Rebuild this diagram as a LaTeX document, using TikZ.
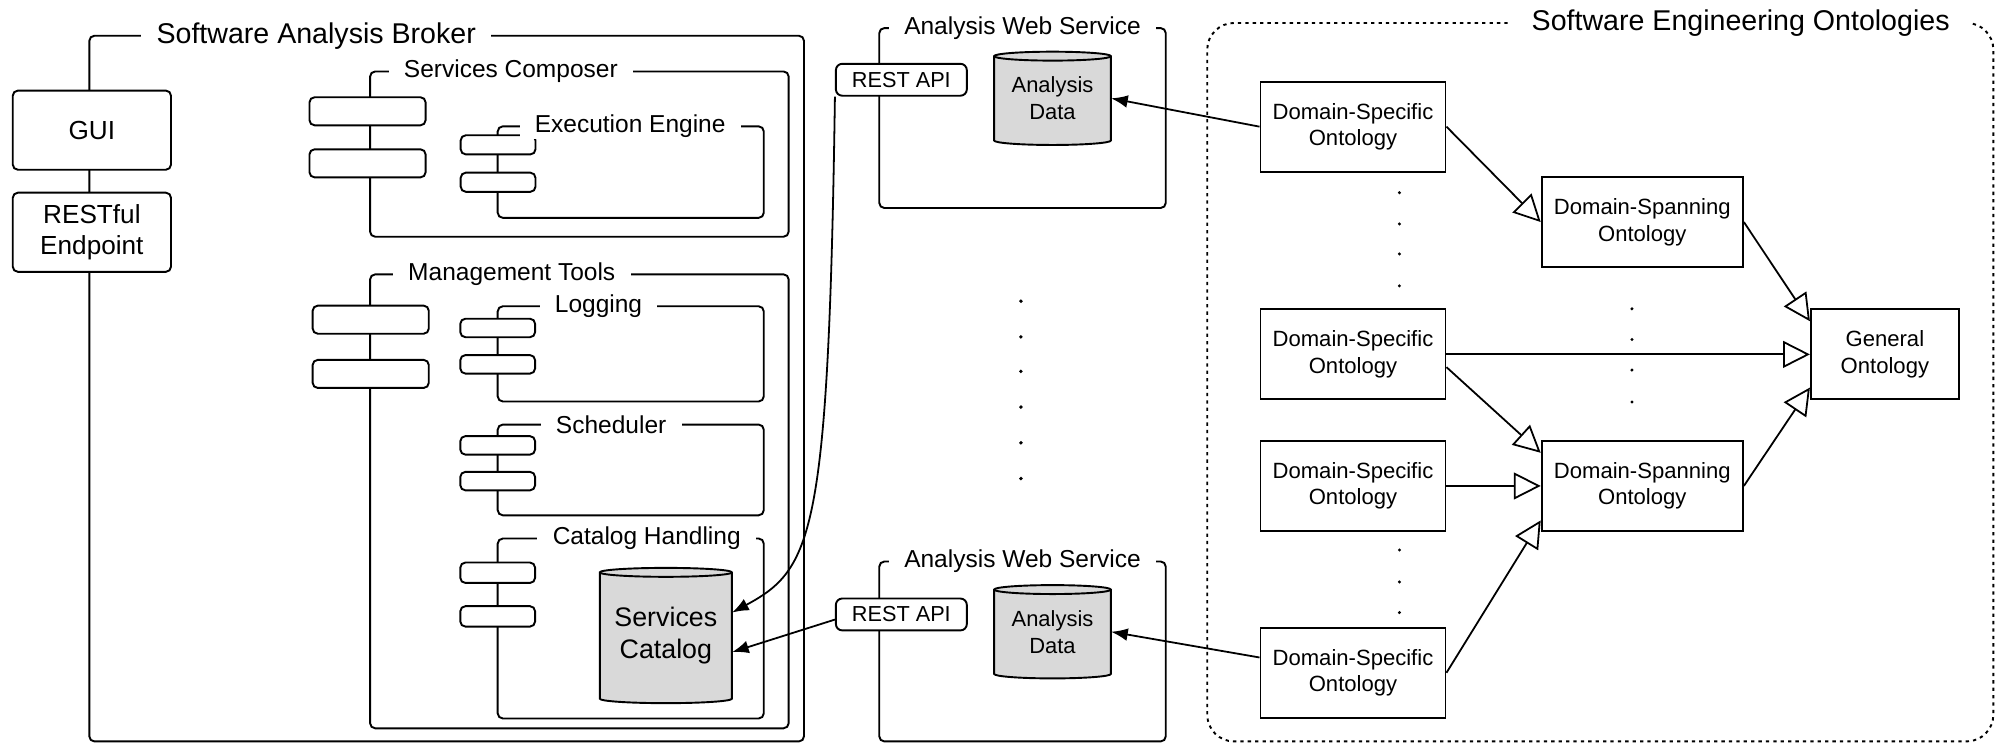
\documentclass[tikz,border=0pt]{standalone}
\usepackage{fontspec}
\setmainfont{Liberation Sans}
\usetikzlibrary{arrows.meta,calc}
\definecolor{dbgray}{gray}{0.85}
\begin{document}
\begin{tikzpicture}[x=1pt,y=-1pt,
  frame/.style={draw, line width=1.5pt, rounded corners=4pt, inner sep=0pt},
  ftitle/.style={fill=white, inner xsep=12pt, inner ysep=1pt, font=\fontsize{19.2}{23}\selectfont},
  btitle/.style={fill=white, inner xsep=12pt, inner ysep=1pt, font=\fontsize{22.4}{27}\selectfont},
  iface/.style={draw, fill=white, line width=1.5pt, rounded corners=4pt, inner sep=0pt},
  sbox/.style={draw, fill=white, line width=1.5pt, rounded corners=4pt, align=center, inner sep=0pt, font=\fontsize{20.5}{24.5}\selectfont},
  onto/.style={draw, fill=white, line width=1.5pt, align=center, inner sep=0pt, minimum height=70.5pt, font=\fontsize{17.3}{20.8}\selectfont},
  restbox/.style={draw, fill=white, line width=1.5pt, rounded corners=5pt, inner sep=0pt, minimum width=102.6pt, minimum height=25pt, font=\fontsize{17}{20}\selectfont},
  dbtext/.style={align=center, inner sep=0pt},
  dep/.style={-{Latex[length=13pt,width=10pt]}, line width=1.4pt},
  gen/.style={-{Triangle[open,length=21pt,width=21pt]}, line width=1.4pt},
  cyl/.style={fill=dbgray, line width=1.5pt},
]
\useasboundingbox (0,0) rectangle (1568,585);

% ---------- frames ----------
\node[frame, minimum width=560pt, minimum height=553pt] (broker) at (350,304.5) {};
\node[frame, minimum width=328pt, minimum height=129.5pt] (sc) at (454,120.75) {};
\node[frame, minimum width=208.5pt, minimum height=71.7pt] (ee) at (494.25,134.85) {};
\node[frame, minimum width=328pt, minimum height=355.7pt] (mt) at (454,392.85) {};
\node[frame, minimum width=208.5pt, minimum height=74.6pt] (log) at (494.25,277.3) {};
\node[frame, minimum width=208.5pt, minimum height=71.1pt] (sched) at (494.25,368.25) {};
\node[frame, minimum width=208.5pt, minimum height=141pt] (ch) at (494.25,492.5) {};
\node[frame, minimum width=224.5pt, minimum height=141pt] (aws1) at (801.25,92.5) {};
\node[frame, minimum width=224.5pt, minimum height=141pt] (aws2) at (801.25,510.5) {};
\node[draw, line width=1.5pt, dash pattern=on 2.6pt off 3.2pt, rounded corners=21pt, inner sep=0pt,
      minimum width=616pt, minimum height=563pt] (seo) at (1254,299.5) {};

% ---------- interfaces ----------
\node[iface, minimum width=91pt, minimum height=22pt] (sci1) at (288,87.2) {};
\node[iface, minimum width=91pt, minimum height=22pt] (sci2) at (288,128) {};
\node[iface, minimum width=58.6pt, minimum height=15pt] (eei1) at (390.3,113.5) {};
\node[iface, minimum width=58.6pt, minimum height=15pt] (eei2) at (390.3,142.8) {};
\node[iface, minimum width=91pt, minimum height=22pt] (mti1) at (290.5,250.5) {};
\node[iface, minimum width=91pt, minimum height=22pt] (mti2) at (290.5,293) {};
\node[iface, minimum width=58.6pt, minimum height=14.5pt] (logi1) at (390,257) {};
\node[iface, minimum width=58.6pt, minimum height=14.5pt] (logi2) at (390,285.5) {};
\node[iface, minimum width=58.6pt, minimum height=14.5pt] (schi1) at (390,349) {};
\node[iface, minimum width=58.6pt, minimum height=14.5pt] (schi2) at (390,377) {};
\node[iface, minimum width=58.6pt, minimum height=16pt] (chi1) at (390,448.8) {};
\node[iface, minimum width=58.6pt, minimum height=16pt] (chi2) at (390,483) {};

% ---------- titles ----------
\node[btitle] (brokerT) at (247.8,28) {Software Analysis Broker};
\node[ftitle] (scT) at (400.3,56) {Services Composer};
\node[ftitle] (eeT) at (493.8,99) {Execution Engine};
\node[ftitle] (mtT) at (401,215) {Management Tools};
\node[ftitle] (logT) at (469,240) {Logging};
\node[ftitle] (schedT) at (478.9,332.7) {Scheduler};
\node[ftitle] (chT) at (506.8,422) {Catalog Handling};
\node[ftitle] (aws1T) at (801.25,22) {Analysis Web Service};
\node[ftitle] (aws2T) at (801.25,440) {Analysis Web Service};
\node[btitle, inner xsep=17pt] (seoT) at (1364,18) {Software Engineering Ontologies};

% ---------- left boxes ----------
\node[sbox, minimum width=124pt, minimum height=62pt] (gui) at (72,102) {GUI};
\node[sbox, minimum width=124pt, minimum height=62pt] (endp) at (72,182) {RESTful\\Endpoint};

% ---------- REST API boxes ----------
\node[restbox] (rest1) at (706.3,62.5) {REST API};
\node[restbox] (rest2) at (706.3,481.5) {REST API};

% ---------- cylinders ----------
\filldraw[cyl] (470,448.5) -- (470,547.5) arc[start angle=180,end angle=360,x radius=51.75pt,y radius=3.5pt]
  -- (573.5,448.5) arc[start angle=0,end angle=180,x radius=51.75pt,y radius=3.5pt] -- cycle;
\draw[line width=1.5pt] (470,448.5) arc[start angle=180,end angle=360,x radius=51.75pt,y radius=3.5pt];
\node[dbtext, minimum width=103.5pt, minimum height=106pt, font=\fontsize{21}{25}\selectfont] (scat) at (521.75,498) {Services\\Catalog};

\filldraw[cyl] (779,44) -- (779,110.1) arc[start angle=180,end angle=360,x radius=45.75pt,y radius=3.5pt]
  -- (870.5,44) arc[start angle=0,end angle=180,x radius=45.75pt,y radius=3.5pt] -- cycle;
\draw[line width=1.5pt] (779,44) arc[start angle=180,end angle=360,x radius=45.75pt,y radius=3.5pt];
\node[dbtext, minimum width=91.5pt, minimum height=73.1pt, font=\fontsize{17.2}{21}\selectfont] (ad1) at (824.75,77.05) {Analysis\\Data};

\filldraw[cyl] (779,462) -- (779,528.1) arc[start angle=180,end angle=360,x radius=45.75pt,y radius=3.5pt]
  -- (870.5,462) arc[start angle=0,end angle=180,x radius=45.75pt,y radius=3.5pt] -- cycle;
\draw[line width=1.5pt] (779,462) arc[start angle=180,end angle=360,x radius=45.75pt,y radius=3.5pt];
\node[dbtext, minimum width=91.5pt, minimum height=73.1pt, font=\fontsize{17.2}{21}\selectfont] (ad2) at (824.75,495.05) {Analysis\\Data};

% ---------- ontologies ----------
\node[onto, minimum width=145pt] (dso1) at (1060.2,99.25) {Domain-Specific\\Ontology};
\node[onto, minimum width=145pt] (dso2) at (1060.2,277.7) {Domain-Specific\\Ontology};
\node[onto, minimum width=145pt] (dso3) at (1060.2,380.8) {Domain-Specific\\Ontology};
\node[onto, minimum width=145pt] (dso4) at (1060.2,527.2) {Domain-Specific\\Ontology};
\node[onto, minimum width=157.7pt, minimum height=70pt] (dspan1) at (1286.9,174) {Domain-Spanning\\Ontology};
\node[onto, minimum width=157.7pt] (dspan2) at (1286.9,380.8) {Domain-Spanning\\Ontology};
\node[onto, minimum width=116pt] (go) at (1477,277.7) {General\\Ontology};

% ---------- ellipsis dots ----------
\foreach \yy in {236,264,291,319,347,375} \fill (800,\yy) circle (1.5pt);
\foreach \yy in {151,175.5,199,224,431,456,480} \fill (1096.6,\yy) circle (1.3pt);
\foreach \yy in {242,266,290,315} \fill (1278.8,\yy) circle (1.3pt);

% ---------- connectors ----------
\draw[dep] (dso1.west) -- (ad1.east);
\draw[dep] ($(dso4.west)+(0,-12)$) -- (ad2.east);
\draw[dep] (rest1.south west) .. controls +(-5,345) and +(63,-34) .. ($(scat.east)+(0,-18)$);
\draw[dep] ($(rest2.west)+(0,4)$) -- ($(scat.east)+(0,13)$);

\draw[gen] (dso1.east) -- (dspan1.west);
\draw[gen] (dspan1.east) -- ($(go.north west)+(0,10)$);
\draw[gen] (dso2.east) -- (go.west);
\draw[gen] ($(dso2.east)+(0,10)$) -- ($(dspan2.north west)+(0,10)$);
\draw[gen] (dso3.east) -- (dspan2.west);
\draw[gen] (dspan2.east) -- ($(go.south west)+(0,-10)$);
\draw[gen] (dso4.east) -- ($(dspan2.south west)+(0,-9)$);
\end{tikzpicture}
\end{document}
